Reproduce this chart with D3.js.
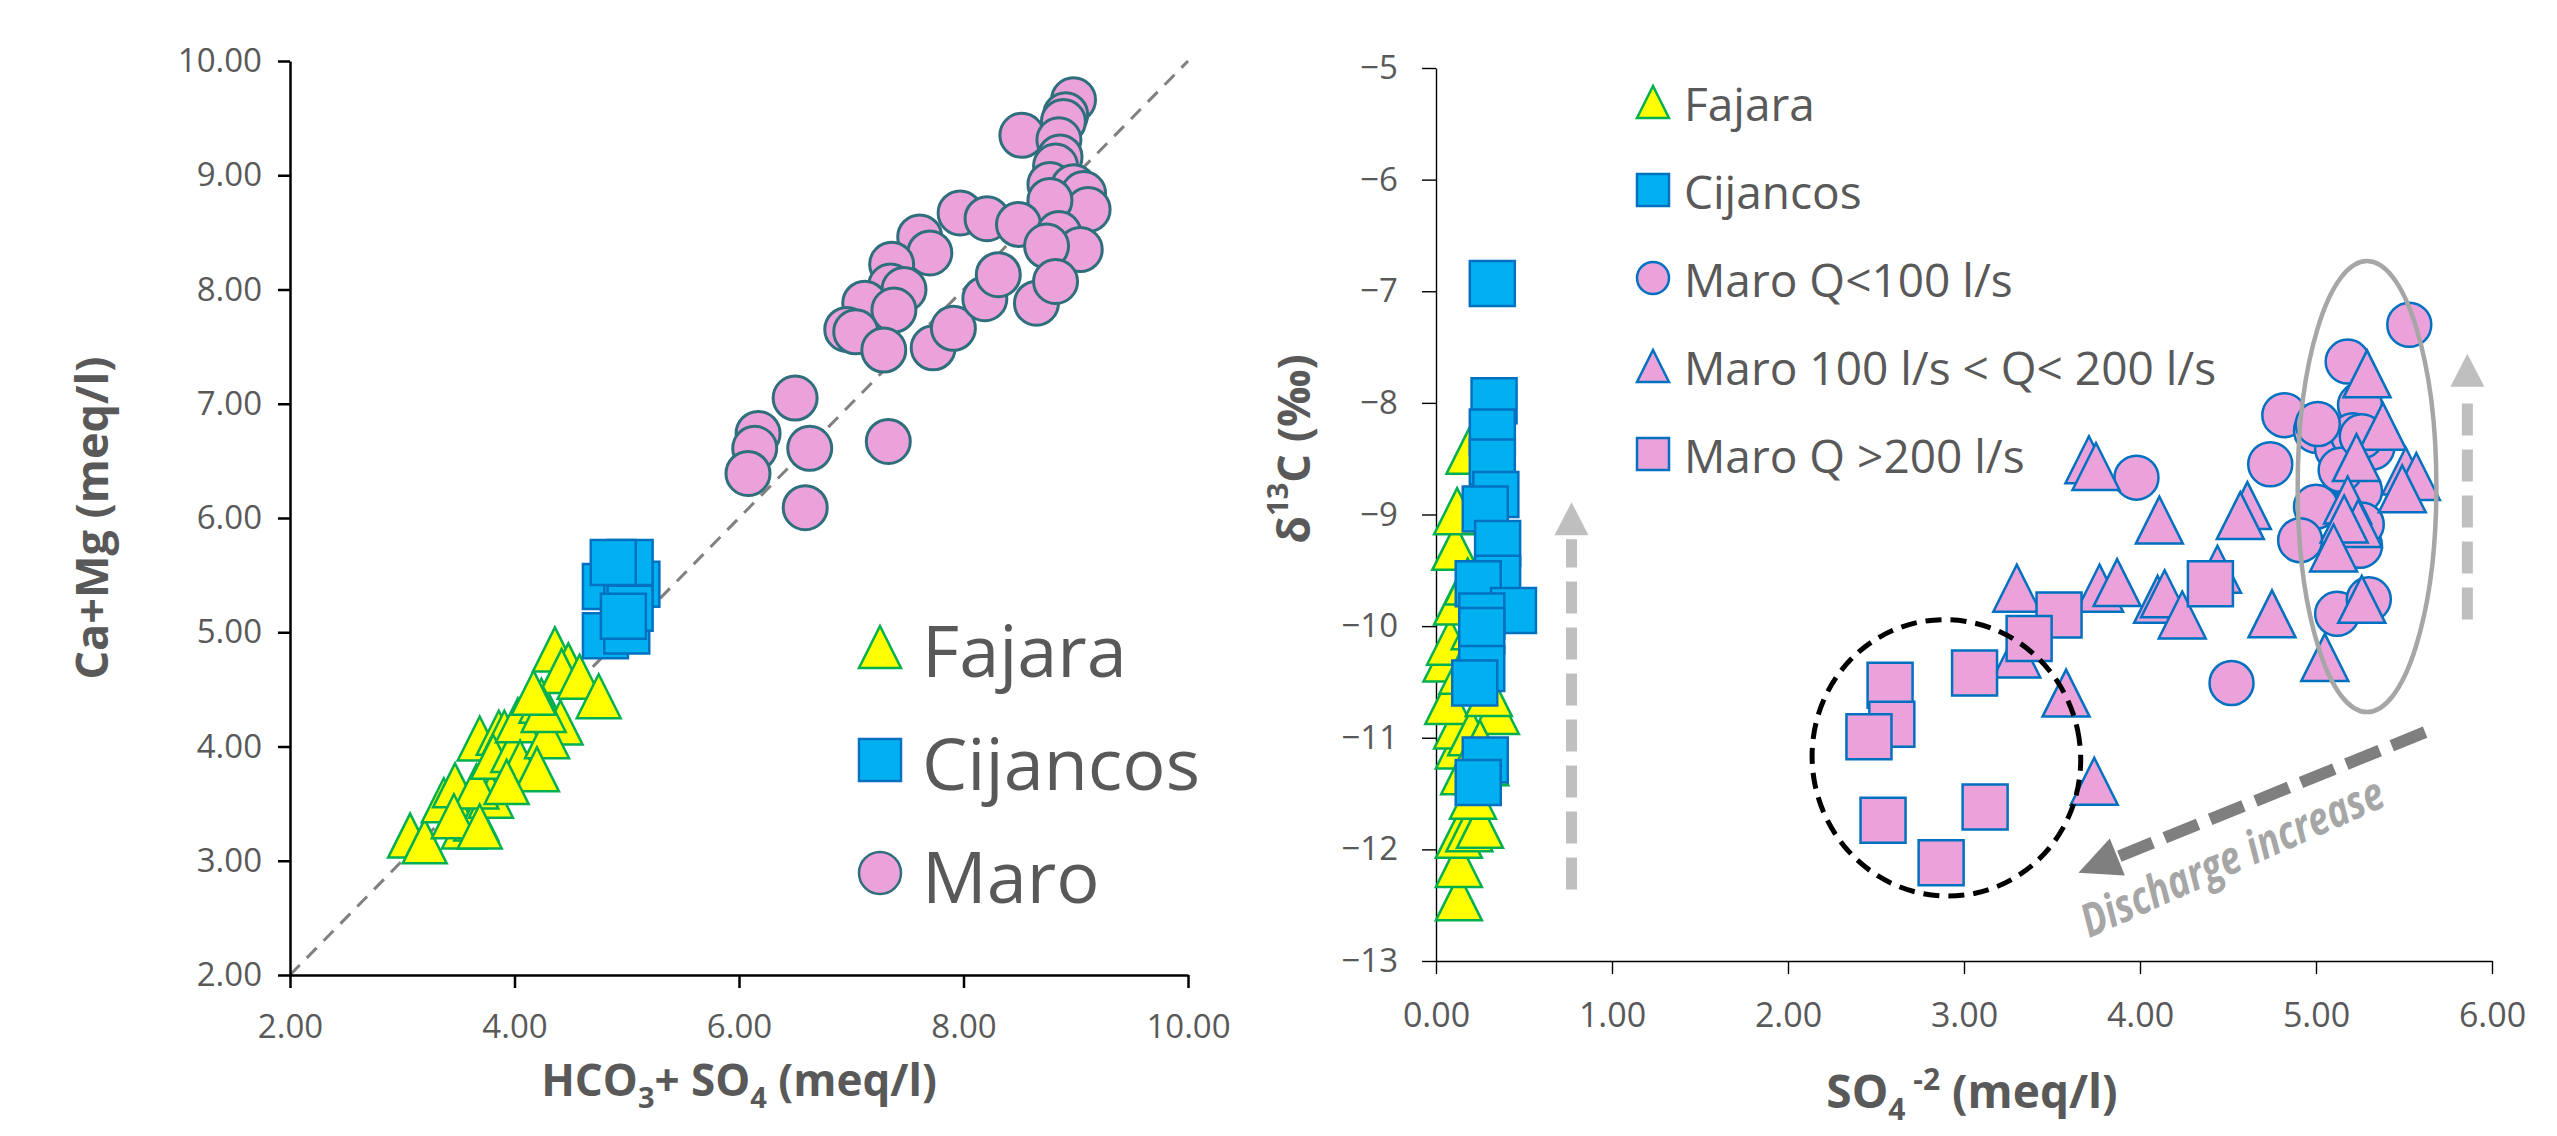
<!DOCTYPE html>
<html>
<head>
<meta charset="utf-8">
<script src="https://cdn.jsdelivr.net/npm/d3@7"></script>
<style>
  body { margin: 0; background: #fff; }
  text { font-family: 'Open Sans', 'Noto Sans', sans-serif; }
</style>
</head>
<body>
<script>
// ---- données ----

// graphique gauche : HCO3+SO4 (x) vs Ca+Mg (y)
const leftFajara = [
  [3.07,3.22],[3.20,3.17],[3.37,3.53],[3.47,3.66],[3.55,3.30],[3.66,3.37],[3.69,4.07],
  [3.86,4.12],[3.91,4.12],[3.79,3.57],[3.66,3.65],[3.81,3.91],[3.99,3.97],[4.03,4.23],
  [4.05,3.86],[4.24,4.40],[4.41,4.21],[4.29,4.09],[4.36,4.85],[4.48,4.71],[4.42,4.66],
  [4.58,4.61],[4.75,4.44],[4.26,4.32],[4.17,4.47],[4.20,3.80],[3.93,3.69],[3.46,3.39],
  [3.69,3.30]
];
const leftCijancos = [
  [4.81,4.97],[5.00,5.01],[4.94,5.55],[4.97,5.44],[4.81,5.40],[5.09,5.42],[5.00,5.31],
  [5.03,5.21],[4.97,5.14],[5.03,5.61],[4.88,5.61]
];
const leftMaro = [
  [8.98,9.66],[8.91,9.53],[8.89,9.47],[8.52,9.35],[8.85,9.31],[8.86,9.16],[8.82,9.08],
  [8.77,8.92],[8.98,8.90],[9.07,8.84],[9.11,8.70],[8.77,8.78],[7.97,8.67],[8.21,8.62],
  [8.49,8.57],[8.85,8.49],[9.04,8.35],[8.74,8.38],[7.61,8.46],[7.70,8.32],[7.36,8.22],
  [7.35,8.03],[7.47,8.00],[7.12,7.88],[7.38,7.82],[6.96,7.65],[7.04,7.63],[7.29,7.47],
  [7.73,7.49],[7.91,7.66],[8.19,7.92],[8.31,8.13],[8.65,7.88],[8.82,8.07],[6.50,7.05],
  [6.17,6.74],[6.14,6.61],[6.08,6.39],[6.63,6.61],[7.33,6.67],[6.59,6.09]
];
const leftTicksX = [2, 4, 6, 8, 10];
const leftTicksY = [2, 3, 4, 5, 6, 7, 8, 9, 10];
const leftLegend = ["Fajara", "Cijancos", "Maro"];

// graphique droit : SO4 (x) vs d13C (y)
const rightFajara = [
  [0.13,-12.43],[0.13,-12.13],[0.13,-11.87],[0.19,-11.81],[0.25,-11.78],[0.21,-11.52],
  [0.28,-11.22],[0.13,-11.07],[0.34,-10.76],[0.12,-10.89],[0.07,-10.67],[0.06,-10.29],
  [0.08,-10.14],[0.12,-9.78],[0.11,-9.29],[0.12,-8.97],[0.19,-8.43],[0.15,-10.40],
  [0.20,-10.95],[0.25,-11.05],[0.30,-10.60],[0.18,-9.60],[0.22,-10.00],[0.16,-11.30]
];
const rightCijancos = [
  [0.32,-6.93],[0.33,-7.98],[0.32,-8.26],[0.32,-8.53],[0.34,-8.82],[0.28,-8.95],
  [0.35,-9.26],[0.35,-9.57],[0.24,-9.62],[0.44,-9.86],[0.26,-9.91],[0.26,-10.04],
  [0.26,-10.38],[0.22,-10.51],[0.28,-11.20],[0.24,-11.40]
];
const rightMaroLow = [
  [3.98,-8.67],[4.82,-8.11],[5.00,-8.25],[5.18,-7.63],[5.25,-8.02],[4.74,-8.55],
  [5.12,-8.41],[5.21,-8.29],[5.32,-8.40],[5.19,-8.66],[5.25,-8.79],[5.00,-8.93],
  [4.91,-9.23],[5.25,-9.28],[5.12,-9.89],[5.30,-9.76],[4.52,-10.51],[5.53,-7.30],
  [5.01,-8.19],[5.26,-9.09],[5.14,-8.60],[5.26,-8.30]
];
const rightMaroMid = [
  [3.71,-8.51],[3.75,-8.57],[4.11,-9.05],[4.61,-8.92],[4.57,-9.01],[5.29,-7.74],
  [5.38,-8.21],[5.23,-8.49],[5.51,-8.61],[5.57,-8.66],[5.49,-8.77],[5.18,-8.87],
  [5.24,-9.08],[5.16,-9.04],[5.10,-9.30],[5.26,-9.76],[5.05,-10.28],[4.75,-9.89],
  [4.44,-9.49],[3.30,-9.66],[3.77,-9.66],[3.87,-9.61],[4.10,-9.76],[4.14,-9.71],
  [4.24,-9.90],[3.30,-10.25],[3.58,-10.60],[3.74,-11.39]
];
const rightMaroHigh = [
  [3.54,-9.90],[3.37,-10.11],[3.06,-10.42],[4.40,-9.62],[3.12,-11.62],[2.87,-12.12],
  [2.58,-10.53],[2.59,-10.88],[2.46,-10.99],[2.54,-11.74]
];
const rightTicksX = [0, 1, 2, 3, 4, 5, 6];
const rightTicksY = [-13, -12, -11, -10, -9, -8, -7, -6, -5];
const rightLegend = ["Fajara", "Cijancos", "Maro Q<100 l/s", "Maro 100 l/s < Q< 200 l/s", "Maro Q >200 l/s"];

// annotations (unités des données)
const arrowUpLeft = [[0.77, -12.36], [0.77, -8.89]];
const arrowUpRight = [[5.86, -9.94], [5.86, -7.56]];
const arrowDischarge = [[5.62, -10.95], [3.65, -12.21]];
const ellipseGray = { cx: 5.29, cy: -8.75, rx: 0.394, ry: 2.02 };
const ellipseBlack = { cx: 2.90, cy: -11.18, rx: 0.762, ry: 1.24 };
const dischargeLabel = { x: 4.56, y: -12.2, text: "Discharge increase" };

// ---- dessin ----
const W = 2557, H = 1136;
const grey = "#595959";
const svg = d3.select("body").append("svg")
  .attr("width", W).attr("height", H)
  .style("background", "#fff");

function shape(type, s) {
  const h = s / 2;
  if (type === "tri") return `M0,${-h}L${h},${h}L${-h},${h}Z`;
  if (type === "sq") return `M${-h},${-h}H${h}V${h}H${-h}Z`;
  return `M${-h},0A${h},${h} 0 1,0 ${h},0A${h},${h} 0 1,0 ${-h},0Z`;
}

function drawSeries(g, data, x, y, st) {
  g.append("g").selectAll("path").data(data).join("path")
    .attr("transform", d => `translate(${x(d[0])},${y(d[1])})`)
    .attr("d", shape(st.type, st.size))
    .attr("fill", st.fill)
    .attr("stroke", st.stroke)
    .attr("stroke-width", st.sw);
}

function styleAxis(g, sw, fs) {
  g.select(".domain").attr("stroke", "#000").attr("stroke-width", sw);
  g.selectAll(".tick line").attr("stroke", "#000").attr("stroke-width", sw);
  g.selectAll(".tick text").attr("fill", grey).style("font-size", fs + "px")
    .style("font-family", "'Open Sans', sans-serif");
}

// ===== gauche =====
const xL = d3.scaleLinear().domain([2, 10]).range([290, 1188]);
const yL = d3.scaleLinear().domain([2, 10]).range([975, 61]);
const gL = svg.append("g");

// droite 1:1
gL.append("line")
  .attr("x1", xL(2)).attr("y1", yL(2)).attr("x2", xL(10)).attr("y2", yL(10))
  .attr("stroke", "#808080").attr("stroke-width", 3).attr("stroke-dasharray", "14,10");

const axYL = gL.append("g").attr("transform", `translate(${xL(2)},0)`)
  .call(d3.axisLeft(yL).tickValues(leftTicksY).tickFormat(d3.format(".2f"))
    .tickSize(12).tickSizeOuter(0).tickPadding(16));
styleAxis(axYL, 2.5, 33);
const axXL = gL.append("g").attr("transform", `translate(0,${yL(2)})`)
  .call(d3.axisBottom(xL).tickValues(leftTicksX).tickFormat(d3.format(".2f"))
    .tickSize(13).tickSizeOuter(0).tickPadding(27));
styleAxis(axXL, 2.5, 33);

const stL = [
  { type: "tri", size: 44, fill: "#FFFF00", stroke: "#00B050", sw: 2.5 },
  { type: "sq", size: 45, fill: "#00B0F0", stroke: "#0070C0", sw: 2.5 },
  { type: "circ", size: 44, fill: "#EBA2DA", stroke: "#2F6E7D", sw: 3 }
];
drawSeries(gL, leftFajara, xL, yL, stL[0]);
drawSeries(gL, leftCijancos, xL, yL, stL[1]);
drawSeries(gL, leftMaro, xL, yL, stL[2]);

// légende gauche
const legL = gL.append("g");
leftLegend.forEach((name, i) => {
  const yy = 647 + i * 113;
  legL.append("path").attr("transform", `translate(880,${yy})`)
    .attr("d", shape(stL[i].type, 42))
    .attr("fill", stL[i].fill).attr("stroke", stL[i].stroke).attr("stroke-width", 2.5);
  legL.append("text").attr("x", 922).attr("y", yy + 2).attr("dominant-baseline", "central")
    .attr("fill", grey).style("font-size", "72px").text(name);
});

// titres des axes gauche
gL.append("text")
  .attr("transform", `translate(90,${(yL(2) + yL(10)) / 2}) rotate(-90)`)
  .attr("text-anchor", "middle").attr("dominant-baseline", "central")
  .attr("fill", grey).style("font-size", "45px").style("font-weight", "bold")
  .text("Ca+Mg (meq/l)");

const tXL = gL.append("text").attr("x", (xL(2) + xL(10)) / 2).attr("y", 1096)
  .attr("text-anchor", "middle").attr("fill", grey)
  .style("font-size", "44px").style("font-weight", "bold");
tXL.append("tspan").text("HCO");
tXL.append("tspan").attr("dy", 12).style("font-size", "29px").text("3");
tXL.append("tspan").attr("dy", -12).text("+ SO");
tXL.append("tspan").attr("dy", 12).style("font-size", "29px").text("4");
tXL.append("tspan").attr("dy", -12).text(" (meq/l)");

// ===== droite =====
const xR = d3.scaleLinear().domain([0, 6]).range([1436, 2492]);
const yR = d3.scaleLinear().domain([-13, -5]).range([961, 68]);
const gR = svg.append("g");

const axYR = gR.append("g").attr("transform", `translate(${xR(0)},0)`)
  .call(d3.axisLeft(yR).tickValues(rightTicksY).tickFormat(d3.format("d"))
    .tickSize(14).tickSizeOuter(0).tickPadding(24));
styleAxis(axYR, 1.4, 33);
const axXR = gR.append("g").attr("transform", `translate(0,${yR(-13)})`)
  .call(d3.axisBottom(xR).tickValues(rightTicksX).tickFormat(d3.format(".2f"))
    .tickSize(13).tickSizeOuter(0).tickPadding(29));
styleAxis(axXR, 1.4, 34);

const stR = [
  { type: "tri", size: 46, fill: "#FFFF00", stroke: "#00B050", sw: 2.5 },
  { type: "sq", size: 45, fill: "#00B0F0", stroke: "#0070C0", sw: 2.5 },
  { type: "circ", size: 44, fill: "#EBA2DA", stroke: "#0070C0", sw: 2.5 },
  { type: "tri", size: 47, fill: "#EBA2DA", stroke: "#0070C0", sw: 2.5 },
  { type: "sq", size: 45, fill: "#EBA2DA", stroke: "#0070C0", sw: 2.5 }
];
drawSeries(gR, rightFajara, xR, yR, stR[0]);
drawSeries(gR, rightCijancos, xR, yR, stR[1]);
drawSeries(gR, rightMaroLow, xR, yR, stR[2]);
drawSeries(gR, rightMaroMid, xR, yR, stR[3]);
drawSeries(gR, rightMaroHigh, xR, yR, stR[4]);

// flèches grises verticales
function upArrow(pts, color) {
  const x0 = xR(pts[0][0]), yb = yR(pts[0][1]), yt = yR(pts[1][1]);
  const hl = 33, hw = 34;
  gR.append("line").attr("x1", x0).attr("x2", x0).attr("y1", yb).attr("y2", yt + hl + 4)
    .attr("stroke", color).attr("stroke-width", 11).attr("stroke-dasharray", "32,14");
  gR.append("path")
    .attr("d", `M${x0},${yt}L${x0 + hw / 2},${yt + hl}L${x0 - hw / 2},${yt + hl}Z`)
    .attr("fill", color);
}
upArrow(arrowUpLeft, "#BFBFBF");
upArrow(arrowUpRight, "#BFBFBF");

// ellipses
gR.append("ellipse")
  .attr("cx", xR(ellipseGray.cx)).attr("cy", yR(ellipseGray.cy))
  .attr("rx", xR(ellipseGray.rx) - xR(0)).attr("ry", yR(-13) - yR(-13 + ellipseGray.ry))
  .attr("fill", "none").attr("stroke", "#A6A6A6").attr("stroke-width", 4.5);
const ecx = xR(ellipseBlack.cx), ecy = yR(ellipseBlack.cy);
gR.append("ellipse")
  .attr("cx", ecx).attr("cy", ecy)
  .attr("rx", xR(ellipseBlack.rx) - xR(0)).attr("ry", yR(-13) - yR(-13 + ellipseBlack.ry))
  .attr("transform", `rotate(-12,${ecx},${ecy})`)
  .attr("fill", "none").attr("stroke", "#000").attr("stroke-width", 5)
  .attr("stroke-dasharray", "16,9");

// flèche "Discharge increase"
(function () {
  const x1 = xR(arrowDischarge[0][0]), y1 = yR(arrowDischarge[0][1]);
  const x2 = xR(arrowDischarge[1][0]), y2 = yR(arrowDischarge[1][1]);
  const ang = Math.atan2(y2 - y1, x2 - x1);
  const hl = 42, hw = 40;
  const bx = x2 - hl * Math.cos(ang), by = y2 - hl * Math.sin(ang);
  gR.append("line").attr("x1", x1).attr("y1", y1).attr("x2", bx).attr("y2", by)
    .attr("stroke", "#7F7F7F").attr("stroke-width", 12).attr("stroke-dasharray", "36,13");
  const px = -Math.sin(ang) * hw / 2, py = Math.cos(ang) * hw / 2;
  gR.append("path")
    .attr("d", `M${x2},${y2}L${bx + px},${by + py}L${bx - px},${by - py}Z`)
    .attr("fill", "#7F7F7F");
})();
gR.append("text")
  .attr("transform", `translate(${xR(dischargeLabel.x)},${yR(dischargeLabel.y)}) rotate(-24) scale(0.92,1.15)`)
  .attr("text-anchor", "middle").attr("fill", "#A6A6A6")
  .style("font-size", "40px").style("font-weight", "bold").style("font-style", "italic")
  .text(dischargeLabel.text);

// légende droite
const legR = gR.append("g");
rightLegend.forEach((name, i) => {
  const yy = 102 + i * 88;
  legR.append("path").attr("transform", `translate(1653,${yy})`)
    .attr("d", shape(stR[i].type, 32))
    .attr("fill", stR[i].fill).attr("stroke", stR[i].stroke).attr("stroke-width", 2.5);
  legR.append("text").attr("x", 1684).attr("y", yy + 1).attr("dominant-baseline", "central")
    .attr("fill", grey).style("font-size", "46px").text(name);
});

// titres des axes droite
const tYR = gR.append("text")
  .attr("transform", `translate(1292,449) rotate(-90)`)
  .attr("text-anchor", "middle").attr("dominant-baseline", "central")
  .attr("fill", grey).style("font-size", "45px").style("font-weight", "bold");
tYR.append("tspan").text("δ");
tYR.append("tspan").attr("dy", -16).style("font-size", "29px").text("13");
tYR.append("tspan").attr("dy", 16).text("C (‰)");

const tXR = gR.append("text").attr("x", (xR(0) + xR(6)) / 2 + 8).attr("y", 1108)
  .attr("text-anchor", "middle").attr("fill", grey)
  .style("font-size", "46px").style("font-weight", "bold");
tXR.append("tspan").text("SO");
tXR.append("tspan").attr("dy", 12).style("font-size", "30px").text("4");
tXR.append("tspan").attr("dy", -30).style("font-size", "30px").text(" -2");
tXR.append("tspan").attr("dy", 18).text(" (meq/l)");
</script>
</body>
</html>
